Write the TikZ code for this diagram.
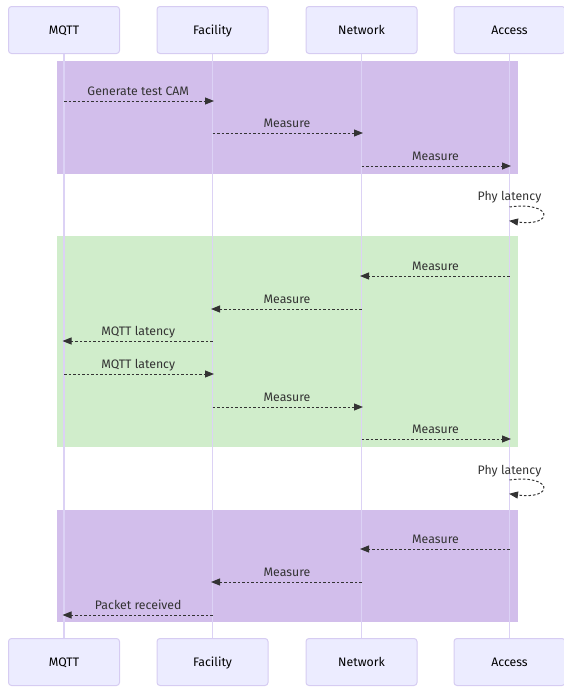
\documentclass[tikz,border=0pt]{standalone}
\usepackage{fontspec}
\setmainfont{Fira Sans}
\usetikzlibrary{arrows.meta,calc}
\definecolor{actorfill}{HTML}{ECECFF}
\definecolor{actorline}{HTML}{D6CCF2}
\definecolor{lifeline}{HTML}{DCD2F5}
\definecolor{loopviolet}{HTML}{D2BEEB}
\definecolor{loopgreen}{HTML}{D0EDCB}
\definecolor{ink}{HTML}{333333}
\tikzset{
  actor/.style={draw=actorline, fill=actorfill, line width=1pt, rounded corners=3pt,
    minimum width=111pt, minimum height=47pt, inner sep=0pt, text=black,
    text height=8.5pt, text depth=0pt,
    font=\fontsize{12.3}{14}\selectfont},
  life/.style={draw=lifeline, line width=1.2pt},
  msg/.style={draw=ink, line width=1pt, dash pattern=on 2.5pt off 2pt,
    -{Triangle[length=9pt,width=7pt]}, shorten >=-1.5pt},
  msglabel/.style={text=ink, font=\fontsize{12.3}{14}\selectfont, inner sep=0pt,
    text height=8.5pt, text depth=0pt},
}
% one message arrow between two lifelines at height #4, labelled #5
\newcommand{\seqmsg}[5]{%
  \coordinate (#1s) at (#2 |- 0,#4);
  \coordinate (#1e) at (#3 |- 0,#4);
  \draw[msg] (#1s) -- (#1e);
  \node[msglabel] (#1l) at ($(#1s)!0.5!(#1e)+(0,-10)$) {#5};}
\begin{document}
\begin{tikzpicture}[x=1pt, y=-1pt]
\useasboundingbox (0,0) rectangle (564,688);

% highlighted blocks
\fill[loopviolet] (57,61) rectangle (518,174);
\fill[loopgreen]  (57,236) rectangle (518,447);
\fill[loopviolet] (57,510) rectangle (518,622);

% participants, top and bottom
\node[actor] (mqttT) at (64,30) {MQTT};
\node[actor] (facT)  at (212.5,30) {Facility};
\node[actor] (netT)  at (361.5,30) {Network};
\node[actor] (accT)  at (509.5,30) {Access};
\node[actor] (mqttB) at (64,662) {MQTT};
\node[actor] (facB)  at (212.5,662) {Facility};
\node[actor] (netB)  at (361.5,662) {Network};
\node[actor] (accB)  at (509.5,662) {Access};

% lifelines
\draw[life] (mqttT.south) -- (mqttB.north);
\draw[life] (facT.south) -- (facB.north);
\draw[life] (netT.south) -- (netB.north);
\draw[life] (accT.south) -- (accB.north);

% messages
\seqmsg{a}{mqttT}{facT}{101}{Generate test CAM}
\seqmsg{b}{facT}{netT}{133}{Measure}
\seqmsg{c}{netT}{accT}{166}{Measure}

\coordinate (p1s) at (accT |- 0,207);
\coordinate (p1e) at ([xshift=1pt]accT |- 0,221);
\draw[msg] (p1s) .. controls +(44,-6) and +(44,6) .. (p1e);
\node[msglabel] (p1l) at (accT |- 0,196.5) {Phy latency};

\seqmsg{d}{accT}{netT}{276}{Measure}
\seqmsg{e}{netT}{facT}{309}{Measure}
\seqmsg{f}{facT}{mqttT}{341}{MQTT latency}
\seqmsg{g}{mqttT}{facT}{374}{MQTT latency}
\seqmsg{h}{facT}{netT}{407}{Measure}
\seqmsg{i}{netT}{accT}{439}{Measure}

\coordinate (p2s) at (accT |- 0,480);
\coordinate (p2e) at ([xshift=1pt]accT |- 0,494);
\draw[msg] (p2s) .. controls +(44,-6) and +(44,6) .. (p2e);
\node[msglabel] (p2l) at (accT |- 0,470) {Phy latency};

\seqmsg{j}{accT}{netT}{549}{Measure}
\seqmsg{k}{netT}{facT}{582}{Measure}
\seqmsg{l}{facT}{mqttT}{615}{Packet received}
\end{tikzpicture}
\end{document}
